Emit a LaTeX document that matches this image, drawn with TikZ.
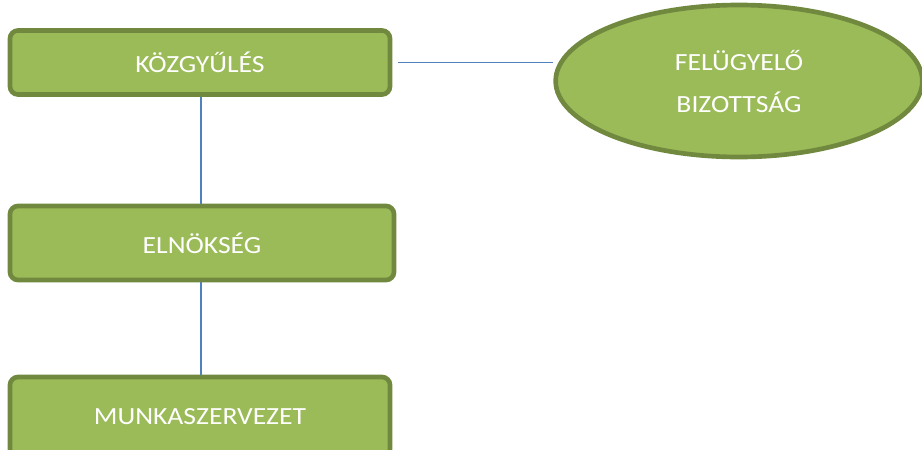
\documentclass[tikz,border=0pt]{standalone}
\usepackage{fontspec}
\setmainfont{Carlito}
\newfontfamily\boxfont[FakeStretch=1.12]{Carlito}
\usetikzlibrary{shapes.geometric}
\definecolor{boxfill}{HTML}{9BBB59}
\definecolor{boxline}{HTML}{71893F}
\definecolor{conn}{HTML}{4F81BD}
\begin{document}
\begin{tikzpicture}[x=0.75pt,y=-0.75pt,
  orgbox/.style={draw=boxline,fill=boxfill,line width=3.5pt,rounded corners=6pt,
    minimum width=285pt,minimum height=48pt,inner sep=0pt,
    text=white,font=\boxfont\fontsize{18.5pt}{22pt}\selectfont},
  orgell/.style={ellipse,draw=boxline,fill=boxfill,line width=3.5pt,
    minimum width=275pt,minimum height=114pt,inner sep=0pt,
    text=white,font=\boxfont\fontsize{18.5pt}{31.5pt}\selectfont,align=center},
  link/.style={draw=conn,line width=1pt}]
\useasboundingbox (0,0) rectangle (922,450);
\clip (0,0) rectangle (922,450);
\node[orgbox] (kgy) at (200,62.5) {KÖZGYŰLÉS};
\node[orgbox,minimum width=288pt,minimum height=55.5pt] (eln) at (202,243) {ELNÖKSÉG};
\node[orgbox,minimum height=60pt] (mun) at (200,417) {MUNKASZERVEZET};
\node[orgell] (fb) at (739,81) {FELÜGYELŐ\\BIZOTTSÁG};
\draw[link,shorten <=4pt] (kgy.east) -- (kgy.east -| fb.west);
\draw[link] ([xshift=0.75pt]kgy.south) -- ([xshift=-0.75pt]eln.north);
\draw[link] ([xshift=-0.75pt]eln.south) -- ([xshift=0.75pt]mun.north);
\end{tikzpicture}
\end{document}
